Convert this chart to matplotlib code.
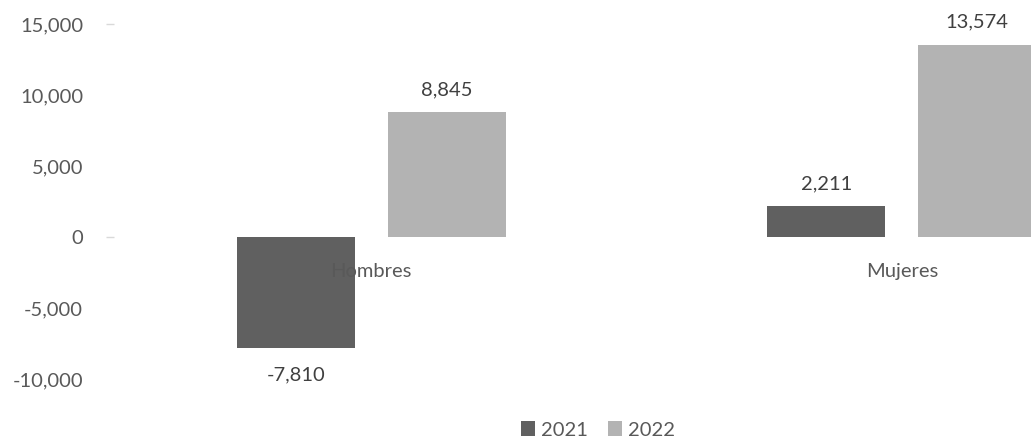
import numpy as np
import matplotlib.pyplot as plt
from matplotlib.ticker import FuncFormatter

categories = ['Hombres', 'Mujeres']
years = ['2021', '2022']
values_2021 = [-7810, 2211]
values_2022 = [8845, 13574]
y_ticks = [-10000, -5000, 0, 5000, 10000, 15000]

dark = '#606060'
light = '#b3b3b3'
text_color = '#595959'

plt.rcParams['font.family'] = ['Lato', 'DejaVu Sans']
fs = 14.5

fig = plt.figure(figsize=(10.31, 4.42), dpi=100)
# plot area runs past the right edge, so the last bar is cut off
ax = fig.add_axes([106 / 1031, 63 / 442, 1061 / 1031, 354.5 / 442])

x = np.arange(len(categories))
width = 0.223
offset = 0.1425

bars1 = ax.bar(x - offset, values_2021, width, color=dark, label=years[0])
bars2 = ax.bar(x + offset, values_2022, width, color=light, label=years[1])

ax.set_xlim(-0.5, len(categories) - 0.5)
ax.set_ylim(-10000, 15000)
ax.set_yticks(y_ticks)
ax.yaxis.set_major_formatter(FuncFormatter(lambda v, p: f'{v:,.0f}'))
ax.tick_params(axis='y', length=0, pad=16.5, labelsize=fs, labelcolor=text_color)
ax.yaxis.remove_overlapping_locs = False
ax.set_yticks([0, 15000], minor=True)
ax.tick_params(axis='y', which='minor', direction='in', length=6, width=1, color='#d9d9d9')
ax.set_xticks([])
for s in ax.spines.values():
    s.set_visible(False)

for bar_group in (bars1, bars2):
    for b in bar_group:
        v = b.get_height()
        cx = b.get_x() + b.get_width() / 2
        if v >= 0:
            ax.annotate(f'{v:,.0f}', (cx, v), xytext=(0, 10), textcoords='offset points',
                        ha='center', va='bottom', fontsize=fs, color='#404040')
        else:
            ax.annotate(f'{v:,.0f}', (cx, v), xytext=(0, -13), textcoords='offset points',
                        ha='center', va='top', fontsize=fs, color='#404040')

# category names sit just under the zero line
for xi, name in zip(x, categories):
    ax.annotate(name, (xi, 0), xytext=(0, -25), textcoords='offset points',
                ha='center', va='center', fontsize=fs, color=text_color, zorder=5)

fig.legend(loc='center', bbox_to_anchor=(598 / 1031, 12 / 442), ncol=2, frameon=False,
           fontsize=fs, labelcolor=text_color, handlelength=0.7, handleheight=0.7,
           handletextpad=0.3, columnspacing=1.0)

fig.savefig('out.png', dpi=100)
